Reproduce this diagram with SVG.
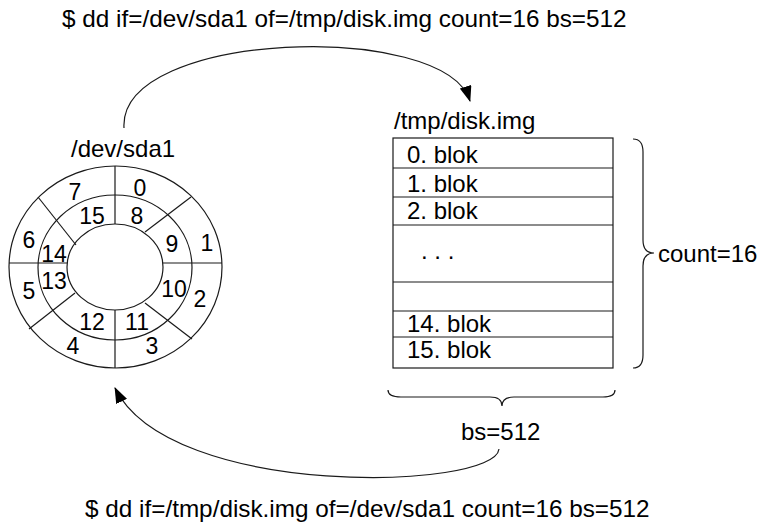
<svg xmlns="http://www.w3.org/2000/svg" width="759" height="531" viewBox="0 0 759 531">
  <defs>
    <style>
      text { font-family: "Liberation Sans", Arial, sans-serif; fill: #000; }
      .cmd { font-size: 24.3px; }
      .lbl { font-size: 24px; }
      .num { font-size: 23px; text-anchor: middle; }
      .ln { fill: none; stroke: #1a1a1a; stroke-width: 1.2; }
      .conn { fill: none; stroke: #1a1a1a; stroke-width: 1.2; }
    </style>
    <marker id="arrow" viewBox="0 0 16 12" refX="15" refY="6" markerWidth="16" markerHeight="12" markerUnits="userSpaceOnUse" orient="auto">
      <path d="M0,0 L16,6 L0,12 Z" fill="#000"/>
    </marker>
  </defs>

  <rect width="759" height="531" fill="#fff"/>

  <!-- shell commands -->
  <g id="cmd-read">
    <text class="cmd" x="62" y="27">$ dd if=/dev/sda1 of=/tmp/disk.img count=16 bs=512</text>
  </g>
  <g id="cmd-write">
    <text class="cmd" x="85" y="517">$ dd if=/tmp/disk.img of=/dev/sda1 count=16 bs=512</text>
  </g>

  <!-- disk platter with sectors -->
  <g id="disk">
    <text class="lbl" x="71" y="157">/dev/sda1</text>
    <ellipse class="ln" cx="115.5" cy="267" rx="106.5" ry="101"/>
    <ellipse class="ln" cx="115" cy="267.5" rx="77" ry="72.5"/>
    <ellipse class="ln" cx="115" cy="267" rx="48" ry="43"/>
    <line class="ln" x1="9" y1="263" x2="67" y2="263"/>
    <line class="ln" x1="163" y1="263" x2="222" y2="263"/>
    <line class="ln" x1="115" y1="166" x2="115" y2="224"/>
    <line class="ln" x1="115" y1="310" x2="115" y2="368"/>
    <line class="ln" x1="38" y1="197" x2="76" y2="245"/>
    <line class="ln" x1="191" y1="197" x2="145" y2="232"/>
    <line class="ln" x1="29" y1="329" x2="75" y2="293"/>
    <line class="ln" x1="145" y1="303" x2="192" y2="339"/>
    <text class="num" x="75" y="200">7</text>
    <text class="num" x="140" y="196">0</text>
    <text class="num" x="92" y="224">15</text>
    <text class="num" x="137" y="224">8</text>
    <text class="num" x="29" y="248">6</text>
    <text class="num" x="172" y="252">9</text>
    <text class="num" x="207" y="251">1</text>
    <text class="num" x="54" y="262">14</text>
    <text class="num" x="54" y="289">13</text>
    <text class="num" x="29" y="299">5</text>
    <text class="num" x="174" y="297">10</text>
    <text class="num" x="200" y="307">2</text>
    <text class="num" x="92" y="330">12</text>
    <text class="num" x="137" y="330">11</text>
    <text class="num" x="73" y="354">4</text>
    <text class="num" x="152" y="354">3</text>
  </g>

  <!-- image file as a stack of blocks -->
  <g id="image">
    <text class="lbl" x="394" y="129">/tmp/disk.img</text>
    <rect class="ln" x="393" y="138" width="220" height="230"/>
    <line class="ln" x1="393" y1="168" x2="613" y2="168"/>
    <line class="ln" x1="393" y1="197" x2="613" y2="197"/>
    <line class="ln" x1="393" y1="225" x2="613" y2="225"/>
    <line class="ln" x1="393" y1="282" x2="613" y2="282"/>
    <line class="ln" x1="393" y1="311" x2="613" y2="311"/>
    <line class="ln" x1="393" y1="337" x2="613" y2="337"/>
    <text class="lbl" x="407" y="163">0. blok</text>
    <text class="lbl" x="407" y="192">1. blok</text>
    <text class="lbl" x="407" y="219">2. blok</text>
    <text class="lbl" x="421" y="259">. . .</text>
    <text class="lbl" x="407" y="332">14. blok</text>
    <text class="lbl" x="407" y="358">15. blok</text>
  </g>

  <!-- block count brace -->
  <g id="count">
    <path class="ln" d="M633 139 Q643 139 643 152 L643 240 Q643 253 654 253 Q643 253 643 266 L643 355 Q643 368 633 368"/>
    <text class="lbl" x="658" y="262">count=16</text>
  </g>

  <!-- block size brace -->
  <g id="bs">
    <path class="ln" d="M388 390 Q388 397 401 397 L490 397 Q502 397 502 406 Q502 397 514 397 L603 397 Q615 397 615 390"/>
    <text class="lbl" x="461" y="440">bs=512</text>
  </g>

  <!-- copy directions -->
  <g id="connectors">
    <path class="conn" d="M124 128 C118 30, 445 20, 470 101" marker-end="url(#arrow)"/>
    <path class="conn" d="M499 449 C495 490, 170 500, 115 388" marker-end="url(#arrow)"/>
  </g>
</svg>
